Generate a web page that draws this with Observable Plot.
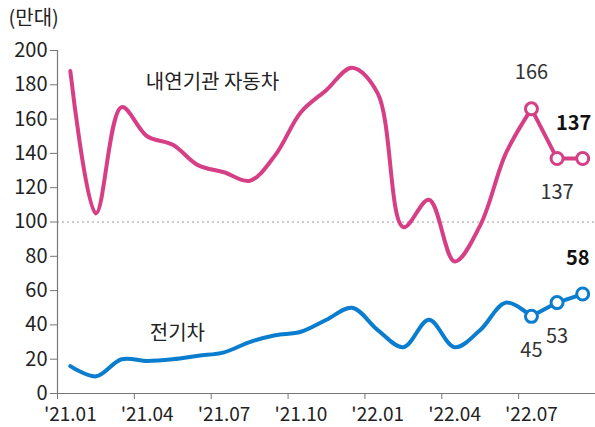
<!DOCTYPE html>
<html>
<head>
<meta charset="utf-8">
<script src="https://cdn.jsdelivr.net/npm/d3@7"></script>
<script src="https://cdn.jsdelivr.net/npm/@observablehq/plot@0.6"></script>
<style>
  html, body { margin: 0; padding: 0; background: #fff; }
  #chart svg { display: block; }
</style>
</head>
<body>
<div id="chart"></div>
<script>
// Monthly sales ('21.01 – '22.09), unit: 만대
const monthCount = 21;
const iceValues = [188, 105, 167, 150, 145, 133, 129, 124, 139, 164, 177, 190, 175, 97, 113, 77, 98, 140, 166, 137, 137];
const evValues  = [16, 10, 20, 19, 20, 22, 24, 30, 34, 36, 43, 50, 37, 27, 43, 27, 37, 53, 45, 53, 58];
const tickLabels = ["'21.01", "'21.04", "'21.07", "'21.10", "'22.01", "'22.04", "'22.07"];
const yTicks = [0, 20, 40, 60, 80, 100, 120, 140, 160, 180, 200];
const iceName = "내연기관 자동차";
const evName = "전기차";
const unitLabel = "(만대)";

const pink = "#d63f86";
const blue = "#0a7dcf";
const font = "'Noto Sans CJK KR', 'Noto Sans', sans-serif";
const fs = 20;

const rows = (vals) => vals.map((v, i) => ({i, x: i + 0.5, v}));
const ice = rows(iceValues);
const ev = rows(evValues);
const smooth = d => d.filter(r => r.i <= 18);
const recent = d => d.filter(r => r.i >= 18);
const tickPos = tickLabels.map((_, k) => k * 3);
const labelPos = tickLabels.map((_, k) => k * 3 + 0.5);

const chart = Plot.plot({
  width: 595,
  height: 427,
  marginLeft: 57,
  marginRight: 0,
  marginTop: 50,
  marginBottom: 34,
  style: {fontFamily: font, fontSize: fs + "px", color: "#222", background: "#fff"},
  x: {domain: [0, monthCount], axis: null},
  y: {domain: [0, 200], axis: null},
  marks: [
    Plot.ruleY([100], {stroke: "#999", strokeWidth: 1.2, strokeDasharray: "2,3"}),
    // y axis
    Plot.axisY({ticks: yTicks, tickSize: 7, tickPadding: 3, stroke: "#777", fill: "#222", fontSize: fs, label: null}),
    Plot.ruleX([0], {stroke: "#777", strokeWidth: 1.2}),
    // x axis: tick marks at month starts, labels at month centers
    Plot.ruleY([0], {stroke: "#777", strokeWidth: 1.2}),
    Plot.axisX({ticks: tickPos, tickSize: 6, stroke: "#777", tickFormat: () => "", label: null}),
    Plot.axisX({ticks: labelPos, tickSize: 0, tickPadding: 14, fill: "#222", fontSize: 19,
      tickFormat: (d) => tickLabels[Math.round((d - 0.5) / 3)], label: null}),
    // lines
    Plot.line(smooth(ice), {x: "x", y: "v", stroke: pink, strokeWidth: 4, curve: "catmull-rom"}),
    Plot.line(recent(ice), {x: "x", y: "v", stroke: pink, strokeWidth: 4}),
    Plot.line(smooth(ev), {x: "x", y: "v", stroke: blue, strokeWidth: 4, curve: "catmull-rom"}),
    Plot.line(recent(ev), {x: "x", y: "v", stroke: blue, strokeWidth: 4}),
    Plot.dot(recent(ice), {x: "x", y: "v", r: 6, fill: "#fff", stroke: pink, strokeWidth: 3}),
    Plot.dot(recent(ev), {x: "x", y: "v", r: 6, fill: "#fff", stroke: blue, strokeWidth: 3}),
    // value labels
    Plot.text(ice.filter(r => r.i === 18), {x: "x", y: "v", text: d => String(d.v), dy: -36, fill: "#333", fontSize: fs}),
    Plot.text(ice.filter(r => r.i === 19), {x: "x", y: "v", text: d => String(d.v), dy: 34, fill: "#333", fontSize: fs}),
    Plot.text(ice.filter(r => r.i === 20), {x: "x", y: "v", text: d => String(d.v), dx: -9, dy: -35, fill: "#111", fontSize: fs, fontWeight: "bold"}),
    Plot.text(ev.filter(r => r.i === 18), {x: "x", y: "v", text: d => String(d.v), dy: 34, fill: "#333", fontSize: fs}),
    Plot.text(ev.filter(r => r.i === 19), {x: "x", y: "v", text: d => String(d.v), dy: 34, fill: "#333", fontSize: fs}),
    Plot.text(ev.filter(r => r.i === 20), {x: "x", y: "v", text: d => String(d.v), dx: -5, dy: -35, fill: "#111", fontSize: fs, fontWeight: "bold"}),
    // series names
    Plot.text([iceName], {x: 6.05, y: 181, text: d => d, fill: "#222", fontSize: fs}),
    Plot.text([evName], {x: 4.68, y: 35, text: d => d, fill: "#222", fontSize: fs}),
    // unit label
    Plot.text([unitLabel], {frameAnchor: "top-left", dx: -49, dy: -40, text: d => d, fill: "#222", fontSize: fs, textAnchor: "start"})
  ]
});
document.getElementById("chart").append(chart);
</script>
</body>
</html>
